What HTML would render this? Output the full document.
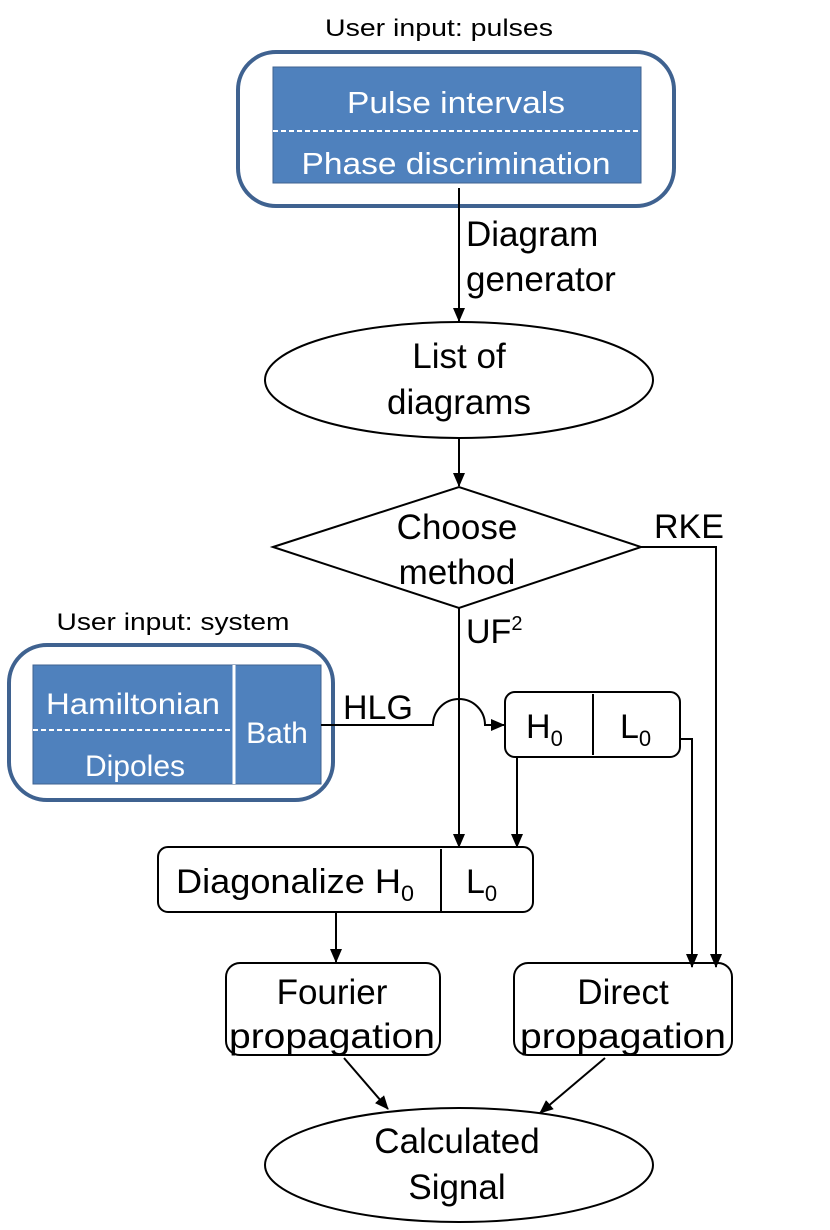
<!DOCTYPE html>
<html><head><style>html,body{margin:0;padding:0;background:#fff}svg{display:block}</style></head>
<body>
<svg width="830" height="1230" viewBox="0 0 830 1230" xmlns="http://www.w3.org/2000/svg" font-family="Liberation Sans, sans-serif">
<defs>
<marker id="a" markerWidth="14" markerHeight="12" refX="13" refY="6" orient="auto" markerUnits="userSpaceOnUse"><path d="M0,0 L14,6 L0,12 z" fill="#000"/></marker>
</defs>
<g fill="#000" font-size="24" text-anchor="middle">
<text x="439" y="36" textLength="228" lengthAdjust="spacingAndGlyphs">User input: pulses</text>
<text x="173" y="630" textLength="233" lengthAdjust="spacingAndGlyphs">User input: system</text>
</g>
<rect x="238" y="52" width="436" height="154" rx="38" fill="none" stroke="#3f6290" stroke-width="4"/>
<rect x="273" y="67" width="368" height="116" fill="#4f81bd" stroke="#3f6290" stroke-width="1"/>
<line x1="273" y1="131" x2="641" y2="131" stroke="#fff" stroke-width="2" stroke-dasharray="5,3"/>
<g fill="#fff" font-size="31" text-anchor="middle">
<text x="456" y="113" textLength="218" lengthAdjust="spacingAndGlyphs">Pulse intervals</text>
<text x="456" y="174" textLength="309" lengthAdjust="spacingAndGlyphs">Phase discrimination</text>
</g>
<rect x="9" y="645" width="324" height="155" rx="38" fill="none" stroke="#3f6290" stroke-width="4"/>
<rect x="33" y="665" width="288" height="119" fill="#4f81bd" stroke="#3f6290" stroke-width="1"/>
<line x1="234" y1="665" x2="234" y2="784" stroke="#fff" stroke-width="3"/>
<line x1="33" y1="730" x2="234" y2="730" stroke="#fff" stroke-width="2" stroke-dasharray="5,3"/>
<g fill="#fff" font-size="30" text-anchor="middle">
<text x="133" y="714" textLength="174" lengthAdjust="spacingAndGlyphs">Hamiltonian</text>
<text x="135" y="776">Dipoles</text>
<text x="277" y="743">Bath</text>
</g>
<g stroke="#000" stroke-width="2" fill="none">
<line x1="459" y1="188" x2="459" y2="321" marker-end="url(#a)"/>
<ellipse cx="459" cy="380" rx="194" ry="58"/>
<line x1="459" y1="438" x2="459" y2="486" marker-end="url(#a)"/>
<polygon points="273,547 459,487 641,547 459,608"/>
<polyline points="641,547 716,547 716,967" marker-end="url(#a)"/>
<line x1="459" y1="608" x2="459" y2="847" marker-end="url(#a)"/>
<path d="M321,725 L433,725 A26,26 0 0 1 485,725 L504,725" marker-end="url(#a)"/>
<rect x="505" y="692" width="175" height="65" rx="10"/>
<line x1="593" y1="694" x2="593" y2="755"/>
<polyline points="680,739 692,739 692,967" marker-end="url(#a)"/>
<line x1="517" y1="757" x2="517" y2="847" marker-end="url(#a)"/>
<rect x="158" y="847" width="375" height="65" rx="10"/>
<line x1="441" y1="849" x2="441" y2="912"/>
<line x1="336" y1="912" x2="336" y2="962" marker-end="url(#a)"/>
<rect x="226" y="963" width="214" height="92" rx="14"/>
<rect x="514" y="963" width="218" height="92" rx="14"/>
<line x1="344" y1="1058" x2="388" y2="1109" marker-end="url(#a)"/>
<line x1="605" y1="1058" x2="540" y2="1113" marker-end="url(#a)"/>
<ellipse cx="459" cy="1165" rx="194" ry="57"/>
</g>
<g fill="#000" font-size="35" text-anchor="middle">
<text x="459" y="368">List of</text>
<text x="459" y="414">diagrams</text>
<text x="457" y="539">Choose</text>
<text x="457" y="584">method</text>
<text x="332" y="1004">Fourier</text>
<text x="332" y="1048" textLength="206" lengthAdjust="spacingAndGlyphs">propagation</text>
<text x="623" y="1004">Direct</text>
<text x="623" y="1048" textLength="206" lengthAdjust="spacingAndGlyphs">propagation</text>
<text x="457" y="1153">Calculated</text>
<text x="457" y="1199">Signal</text>
</g>
<g fill="#000" font-size="35">
<text x="466" y="246">Diagram</text>
<text x="466" y="291">generator</text>
<text x="654" y="538" font-size="34">RKE</text>
<text x="466" y="643" font-size="34">UF<tspan font-size="20" dy="-13">2</tspan></text>
<text x="343" y="719" font-size="34">HLG</text>
<text x="526" y="738" font-size="34">H<tspan font-size="22" dy="8">0</tspan></text>
<text x="620" y="738" font-size="34">L<tspan font-size="22" dy="8">0</tspan></text>
<text x="176" y="893" font-size="34" textLength="238" lengthAdjust="spacingAndGlyphs">Diagonalize H<tspan font-size="22" dy="8">0</tspan></text>
<text x="466" y="893" font-size="34">L<tspan font-size="22" dy="8">0</tspan></text>
</g>
</svg>
</body></html>
